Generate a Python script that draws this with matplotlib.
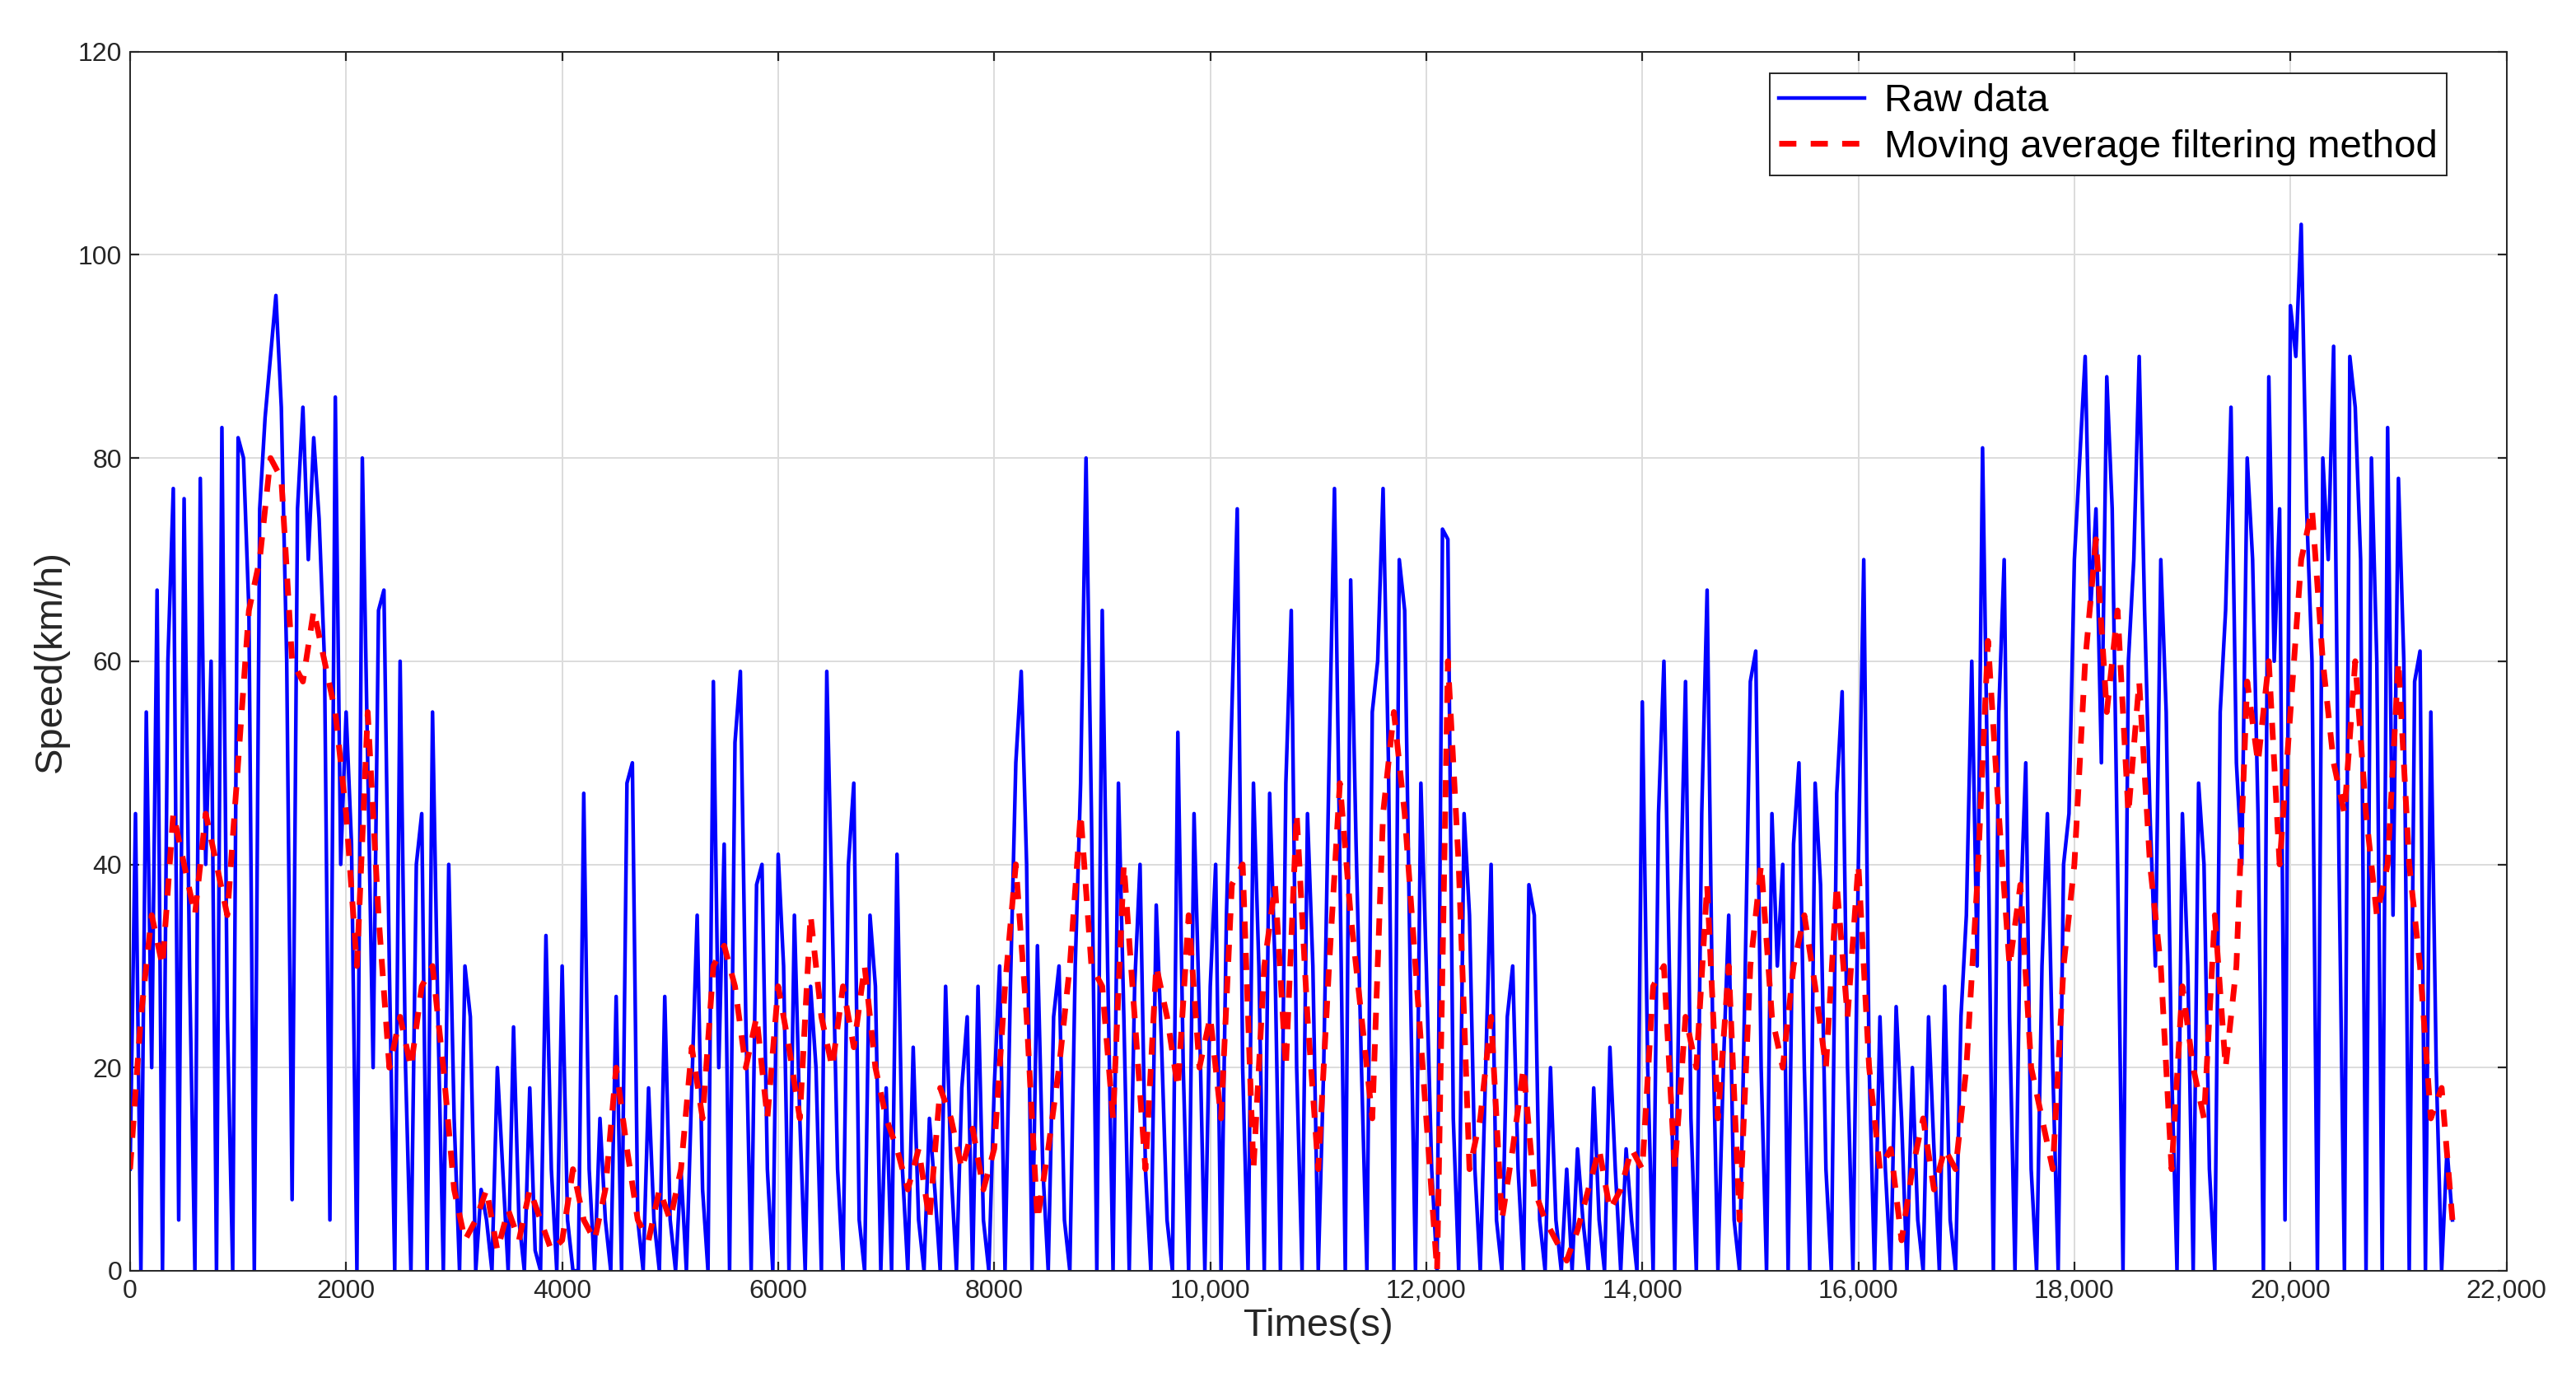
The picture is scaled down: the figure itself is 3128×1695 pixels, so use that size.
import matplotlib
matplotlib.use("Agg")
import matplotlib.pyplot as plt
import numpy as np

plt.rcParams['font.family'] = ['Liberation Sans', 'DejaVu Sans']

raw_step = 50
raw_speed = [
10,45,0,55,20,67,0,60,77,5,76,30,0,78,40,60,0,83,25,0,
82,80,65,0,75,84,90,96,85,60,7,75,85,70,82,74,60,5,86,40,
55,42,0,80,50,20,65,67,30,0,60,20,0,40,45,0,55,25,0,40,
15,0,30,25,0,8,5,0,20,10,0,24,5,0,18,2,0,33,10,0,
30,5,0,0,47,10,0,15,5,0,27,0,48,50,5,0,18,5,0,27,
5,0,10,0,18,35,8,0,58,20,42,0,52,59,25,0,38,40,10,0,
41,30,0,35,15,0,28,20,0,59,35,10,0,40,48,5,0,35,28,0,
18,0,41,10,0,22,5,0,15,8,0,28,10,0,18,25,0,28,5,0,
18,30,0,28,50,59,40,0,32,10,0,25,30,5,0,30,48,80,45,0,
65,30,0,48,25,0,28,40,10,0,36,22,5,0,53,20,0,45,25,0,
28,40,0,35,55,75,20,0,48,30,0,47,30,0,48,65,20,0,45,30,
0,20,50,77,40,0,68,42,20,0,55,60,77,50,0,70,65,30,0,48,
30,10,0,73,72,15,0,45,35,10,0,20,40,5,0,25,30,10,0,38,
35,5,0,20,5,0,10,0,12,5,0,18,5,0,22,10,0,12,5,0,
56,20,0,45,60,30,0,35,58,15,0,45,67,25,0,20,35,5,0,28,
58,61,20,0,45,30,40,0,42,50,20,0,48,38,10,0,47,57,20,0,
40,70,20,0,25,10,0,26,15,0,20,5,0,25,12,0,28,5,0,25,
35,60,30,81,45,0,55,70,25,0,35,50,10,0,30,45,20,0,40,45,
70,80,90,65,75,50,88,75,40,0,60,70,90,65,45,30,70,55,20,0,
45,30,0,48,40,10,0,55,65,85,50,40,80,70,45,0,88,60,75,5,
95,90,103,75,60,0,80,70,91,40,0,90,85,70,0,80,60,0,83,35,
78,60,0,58,61,0,55,20,0,12,5]

ma_step = 100
ma_speed = [
10,25,35,30,45,40,35,45,40,35,
50,65,70,80,78,60,58,65,60,55,
45,30,55,35,20,25,20,28,30,20,
8,3,5,8,2,6,3,8,5,2,
3,10,5,3,8,20,12,5,3,8,
5,10,22,15,30,32,28,20,25,15,
28,22,15,35,25,20,28,22,30,20,
15,12,8,12,5,18,15,10,14,8,
12,28,40,25,5,12,20,30,45,30,
28,15,40,25,10,30,25,18,35,20,
25,15,38,40,10,30,38,20,45,25,
10,30,48,35,25,15,45,55,45,30,
15,0,60,40,10,15,25,5,12,20,
8,5,3,1,4,8,12,6,8,12,
10,28,30,10,25,20,38,15,30,5,
30,40,25,20,30,35,28,20,38,25,
40,20,10,12,3,10,15,8,12,10,
20,38,62,45,30,38,20,15,10,30,
40,60,72,55,65,45,58,40,30,10,
28,20,15,35,20,30,58,50,60,40,
55,70,75,60,50,45,60,45,35,40,
60,40,30,15,18,5]

xticks = [0,2000,4000,6000,8000,10000,12000,14000,16000,18000,20000,22000]
xlabels = ['0','2000','4000','6000','8000','10,000','12,000','14,000','16,000','18,000','20,000','22,000']
yticks = [0,20,40,60,80,100,120]

t_raw = np.arange(len(raw_speed)) * raw_step
t_ma = np.arange(len(ma_speed)) * ma_step

fig = plt.figure(figsize=(15.64, 8.475), dpi=200)
ax = fig.add_axes([0.0505, 0.0897, 0.9225, 0.8733])
ax.plot(t_raw, raw_speed, color='#0000ff', lw=1.6, label='Raw data')
ax.plot(t_ma, ma_speed, color='#ff0000', lw=2.5, ls=(0, (3, 2.5)), label='Moving average filtering method')
ax.set_xlim(0, 22000)
ax.set_ylim(0, 120)
ax.set_xticks(xticks)
ax.set_xticklabels(xlabels)
ax.set_yticks(yticks)
ax.grid(True, color='#dcdcdc', lw=0.7)
ax.tick_params(direction='in', top=True, right=True, labelsize=11.5, length=4, color='#262626', labelcolor='#262626')
for s in ax.spines.values():
    s.set_color('#262626'); s.set_linewidth(0.7)
ax.set_xlabel('Times(s)', fontsize=17, labelpad=2, color='#262626')
ax.set_ylabel('Speed(km/h)', fontsize=17, labelpad=4, color='#262626')
leg = ax.legend(loc='upper right', fontsize=17, fancybox=False, edgecolor='#262626',
                framealpha=1, handlelength=2.2, borderaxespad=0.0, borderpad=0.25,
                handletextpad=0.5, labelspacing=0.25, bbox_to_anchor=(0.975, 0.982))
leg.get_frame().set_linewidth(0.7)
fig.savefig('out.png', dpi=200)
